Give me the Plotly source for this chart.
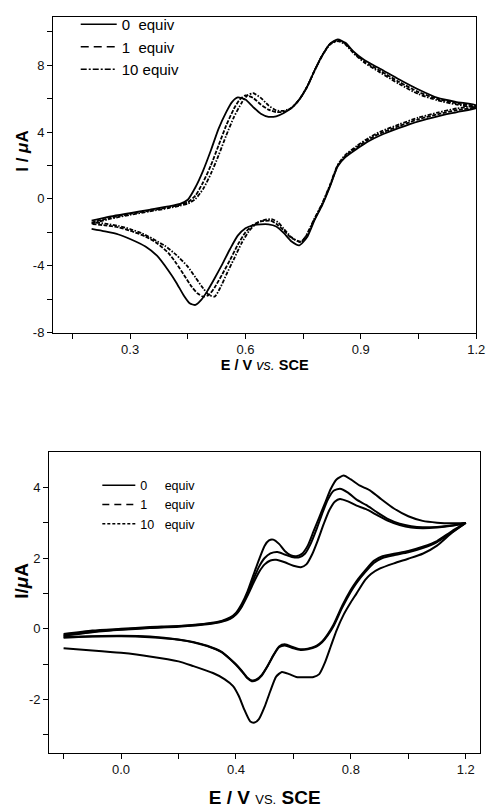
import plotly.graph_objects as go

# ---------------- data: top panel (E / V vs SCE, I / uA) ----------------
top_E_fwd = [0.20, 0.25, 0.30, 0.35, 0.40, 0.43, 0.45, 0.47, 0.49, 0.51,
             0.53, 0.55, 0.565, 0.58, 0.60, 0.62, 0.64, 0.66, 0.68, 0.70,
             0.72, 0.74, 0.76, 0.78, 0.80, 0.82, 0.84, 0.86, 0.88, 0.91,
             0.95, 1.00, 1.05, 1.10, 1.15, 1.20]
top_I_fwd_0eq = [-1.30, -1.05, -0.85, -0.65, -0.45, -0.30, -0.05, 0.70, 1.70, 2.90,
                 4.20, 5.20, 5.80, 6.08, 5.95, 5.50, 5.10, 4.92, 4.95, 5.15,
                 5.45, 5.95, 6.70, 7.70, 8.60, 9.30, 9.55, 9.35, 8.85, 8.30,
                 7.80, 7.15, 6.55, 6.05, 5.80, 5.60]
top_E_fwd_1eq = [0.20, 0.25, 0.30, 0.35, 0.40, 0.43, 0.45, 0.47, 0.49, 0.51,
                 0.53, 0.55, 0.57, 0.585, 0.60, 0.62, 0.64, 0.66, 0.68, 0.70,
                 0.72, 0.74, 0.76, 0.78, 0.80, 0.82, 0.84, 0.86, 0.88, 0.91,
                 0.95, 1.00, 1.05, 1.10, 1.15, 1.20]
top_I_fwd_1eq = [-1.42, -1.12, -0.90, -0.70, -0.50, -0.35, -0.20, 0.20, 1.00, 2.00,
                 3.20, 4.40, 5.40, 5.95, 6.20, 6.05, 5.65, 5.35, 5.20, 5.22,
                 5.45, 5.95, 6.70, 7.70, 8.60, 9.28, 9.50, 9.30, 8.80, 8.22,
                 7.68, 7.00, 6.40, 5.98, 5.72, 5.55]
top_E_fwd_10eq = [0.20, 0.25, 0.30, 0.35, 0.40, 0.43, 0.45, 0.47, 0.49, 0.51,
                  0.53, 0.55, 0.57, 0.59, 0.605, 0.62, 0.64, 0.66, 0.68, 0.70,
                  0.72, 0.74, 0.76, 0.78, 0.80, 0.82, 0.84, 0.86, 0.88, 0.91,
                  0.95, 1.00, 1.05, 1.10, 1.15, 1.20]
top_I_fwd_10eq = [-1.48, -1.18, -0.95, -0.75, -0.55, -0.40, -0.28, 0.00, 0.60, 1.50,
                  2.60, 3.80, 4.90, 5.75, 6.20, 6.33, 6.05, 5.60, 5.30, 5.28,
                  5.45, 5.95, 6.70, 7.70, 8.60, 9.25, 9.45, 9.25, 8.75, 8.15,
                  7.58, 6.88, 6.28, 5.90, 5.65, 5.50]

top_E_rev_0eq = [1.20, 1.15, 1.10, 1.05, 1.00, 0.95, 0.92, 0.89, 0.86, 0.84,
                 0.82, 0.80, 0.78, 0.76, 0.74, 0.72, 0.70, 0.68, 0.66, 0.64,
                 0.62, 0.60, 0.58, 0.56, 0.54, 0.52, 0.50, 0.485, 0.47, 0.455,
                 0.44, 0.42, 0.40, 0.37, 0.34, 0.30, 0.27, 0.235, 0.20]
top_I_rev_0eq = [5.45, 5.20, 4.95, 4.65, 4.25, 3.80, 3.45, 3.00, 2.50, 1.95,
                 0.75, -0.35, -1.25, -2.30, -2.78, -2.55, -2.05, -1.65, -1.52, -1.52,
                 -1.58, -1.75, -2.20, -3.00, -3.90, -4.75, -5.55, -6.05, -6.35, -6.25,
                 -5.80, -5.00, -4.30, -3.40, -2.85, -2.40, -2.13, -1.95, -1.80]
top_E_rev_1eq = [1.20, 1.15, 1.10, 1.05, 1.00, 0.95, 0.92, 0.89, 0.86, 0.84,
                 0.82, 0.80, 0.78, 0.76, 0.745, 0.72, 0.70, 0.68, 0.665, 0.64,
                 0.62, 0.60, 0.58, 0.56, 0.54, 0.52, 0.505, 0.49, 0.475, 0.46,
                 0.44, 0.42, 0.40, 0.37, 0.34, 0.30, 0.27, 0.235, 0.20]
top_I_rev_1eq = [5.50, 5.32, 5.07, 4.77, 4.37, 3.92, 3.56, 3.10, 2.58, 2.00,
                 0.80, -0.30, -1.20, -2.15, -2.55, -2.35, -1.90, -1.48, -1.30, -1.35,
                 -1.55, -2.00, -2.75, -3.65, -4.50, -5.30, -5.75, -5.85, -5.65, -5.25,
                 -4.55, -3.85, -3.25, -2.65, -2.25, -1.90, -1.70, -1.58, -1.50]
top_E_rev_10eq = [1.20, 1.15, 1.10, 1.05, 1.00, 0.95, 0.92, 0.89, 0.86, 0.84,
                  0.82, 0.80, 0.78, 0.76, 0.745, 0.72, 0.70, 0.685, 0.67, 0.65,
                  0.63, 0.61, 0.59, 0.57, 0.55, 0.535, 0.52, 0.505, 0.49, 0.47,
                  0.45, 0.42, 0.39, 0.36, 0.33, 0.30, 0.27, 0.235, 0.20]
top_I_rev_10eq = [5.55, 5.42, 5.17, 4.87, 4.47, 4.02, 3.65, 3.18, 2.64, 2.04,
                  0.85, -0.25, -1.15, -2.10, -2.60, -2.30, -1.80, -1.40, -1.22, -1.25,
                  -1.45, -1.90, -2.65, -3.60, -4.55, -5.30, -5.85, -5.75, -5.35, -4.70,
                  -4.05, -3.35, -2.80, -2.40, -2.05, -1.80, -1.62, -1.48, -1.38]

# ---------------- data: bottom panel ----------------
bot_E_fwd_0eq = [-0.20, -0.10, 0.00, 0.10, 0.20, 0.30, 0.35, 0.38, 0.40, 0.42,
                 0.44, 0.46, 0.48, 0.50, 0.515, 0.53, 0.55, 0.57, 0.59, 0.61,
                 0.63, 0.65, 0.67, 0.69, 0.71, 0.73, 0.75, 0.775, 0.80, 0.83,
                 0.865, 0.90, 0.95, 1.00, 1.05, 1.10, 1.15, 1.20]
bot_I_fwd_0eq = [-0.15, -0.05, 0.00, 0.05, 0.08, 0.15, 0.22, 0.32, 0.45, 0.70,
                 1.05, 1.50, 1.95, 2.35, 2.50, 2.52, 2.40, 2.20, 2.08, 2.05,
                 2.12, 2.35, 2.75, 3.15, 3.55, 3.95, 4.22, 4.33, 4.22, 4.05,
                 3.92, 3.70, 3.40, 3.18, 3.05, 3.00, 2.98, 2.99]
bot_E_fwd_1eq = [-0.20, -0.10, 0.00, 0.10, 0.20, 0.30, 0.35, 0.38, 0.40, 0.42,
                 0.44, 0.46, 0.48, 0.50, 0.52, 0.545, 0.57, 0.595, 0.62, 0.64,
                 0.66, 0.68, 0.70, 0.72, 0.74, 0.762, 0.79, 0.82, 0.853, 0.89,
                 0.93, 0.97, 1.01, 1.05, 1.10, 1.15, 1.20]
bot_I_fwd_1eq = [-0.18, -0.08, -0.02, 0.03, 0.07, 0.14, 0.21, 0.30, 0.42, 0.65,
                 0.98, 1.38, 1.75, 2.00, 2.13, 2.17, 2.10, 2.03, 2.02, 2.12,
                 2.40, 2.80, 3.25, 3.65, 3.90, 3.96, 3.85, 3.65, 3.50, 3.30,
                 3.10, 2.97, 2.90, 2.87, 2.88, 2.92, 2.99]
bot_E_fwd_10eq = [-0.20, -0.10, 0.00, 0.10, 0.20, 0.30, 0.35, 0.38, 0.40, 0.42,
                  0.44, 0.46, 0.48, 0.50, 0.52, 0.54, 0.57, 0.60, 0.626, 0.645,
                  0.665, 0.685, 0.705, 0.725, 0.745, 0.762, 0.79, 0.82, 0.853, 0.89,
                  0.93, 0.97, 1.01, 1.05, 1.10, 1.15, 1.20]
bot_I_fwd_10eq = [-0.20, -0.10, -0.03, 0.02, 0.06, 0.13, 0.20, 0.28, 0.40, 0.62,
                  0.93, 1.28, 1.60, 1.82, 1.93, 1.95, 1.88, 1.78, 1.74, 1.82,
                  2.10, 2.50, 2.95, 3.35, 3.60, 3.67, 3.60, 3.48, 3.38, 3.22,
                  3.05, 2.93, 2.86, 2.84, 2.86, 2.91, 2.99]

bot_E_rev_0eq = [1.20, 1.15, 1.10, 1.05, 1.00, 0.95, 0.90, 0.87, 0.85, 0.82,
                 0.80, 0.775, 0.75, 0.73, 0.71, 0.69, 0.67, 0.64, 0.61, 0.585,
                 0.56, 0.54, 0.52, 0.50, 0.48, 0.465, 0.45, 0.43, 0.41, 0.39,
                 0.36, 0.32, 0.25, 0.20, 0.10, 0.00, -0.10, -0.20]
bot_I_rev_0eq = [2.99, 2.70, 2.35, 2.12, 1.98, 1.85, 1.70, 1.55, 1.38, 1.00,
                 0.75, 0.40, -0.05, -0.50, -0.95, -1.28, -1.36, -1.37, -1.36, -1.28,
                 -1.22, -1.35, -1.75, -2.20, -2.55, -2.65, -2.62, -2.30, -1.90, -1.62,
                 -1.42, -1.25, -1.05, -0.92, -0.78, -0.68, -0.61, -0.55]
bot_E_rev_1eq = [1.20, 1.15, 1.10, 1.05, 1.00, 0.95, 0.91, 0.88, 0.85, 0.82,
                 0.80, 0.77, 0.74, 0.72, 0.70, 0.68, 0.65, 0.625, 0.60, 0.57,
                 0.55, 0.53, 0.51, 0.49, 0.47, 0.455, 0.44, 0.42, 0.40, 0.38,
                 0.35, 0.30, 0.25, 0.20, 0.10, 0.00, -0.10, -0.20]
bot_I_rev_1eq = [2.99, 2.75, 2.48, 2.32, 2.20, 2.12, 2.05, 1.92, 1.65, 1.35,
                 1.10, 0.65, 0.12, -0.15, -0.36, -0.48, -0.56, -0.58, -0.52, -0.44,
                 -0.50, -0.75, -1.05, -1.30, -1.44, -1.46, -1.38, -1.18, -1.00, -0.85,
                 -0.65, -0.48, -0.37, -0.30, -0.22, -0.20, -0.21, -0.23]
bot_E_rev_10eq = [1.20, 1.15, 1.10, 1.05, 1.00, 0.95, 0.91, 0.88, 0.85, 0.82,
                  0.80, 0.77, 0.74, 0.72, 0.70, 0.68, 0.65, 0.625, 0.60, 0.57,
                  0.55, 0.53, 0.51, 0.49, 0.47, 0.455, 0.44, 0.42, 0.40, 0.38,
                  0.35, 0.30, 0.25, 0.20, 0.10, 0.00, -0.10, -0.20]
bot_I_rev_10eq = [2.99, 2.72, 2.45, 2.28, 2.16, 2.08, 2.00, 1.86, 1.60, 1.30,
                  1.05, 0.60, 0.08, -0.18, -0.38, -0.50, -0.58, -0.60, -0.55, -0.47,
                  -0.52, -0.76, -1.06, -1.32, -1.46, -1.48, -1.40, -1.20, -1.02, -0.86,
                  -0.66, -0.49, -0.38, -0.31, -0.24, -0.21, -0.22, -0.25]

# ---------------- labels / ticks ----------------
top_legend_names = ["0\u00a0\u00a0equiv", "1\u00a0\u00a0equiv", "10\u00a0equiv"]
bot_legend_names = ["0\u00a0\u00a0\u00a0\u00a0\u00a0equiv", "1\u00a0\u00a0\u00a0\u00a0\u00a0equiv", "10\u00a0\u00a0\u00a0equiv"]
top_x_ticks = [0.3, 0.6, 0.9, 1.2]
top_x_labels = ["0.3", "0.6", "0.9", "1.2"]
top_x_minor = [0.15, 0.45, 0.75, 1.05]
top_y_ticks = [-8, -4, 0, 4, 8]
top_y_labels = ["-8", "-4", "0", "4", "8"]
top_y_minor = [-6, -2, 2, 6, 10]
bot_x_ticks = [0.0, 0.4, 0.8, 1.2]
bot_x_labels = ["0.0", "0.4", "0.8", "1.2"]
bot_x_minor = [-0.2, 0.2, 0.6, 1.0]
bot_y_ticks = [-2, 0, 2, 4]
bot_y_labels = ["-2", "0", "2", "4"]
bot_y_minor = [-3, -1, 1, 3]

FONT = "Arial, 'Liberation Sans', sans-serif"

# page body has an 8px margin; figure is sized/placed to compensate
OFF = 8
W, H = 495 - OFF, 808 - OFF
def fx(px):
    return (px - OFF) / W
def fy(py):
    return 1 - (py - OFF) / H

fig = go.Figure()

top_curves = [
    (top_E_fwd, top_I_fwd_0eq, top_E_rev_0eq, top_I_rev_0eq, "solid"),
    (top_E_fwd_1eq, top_I_fwd_1eq, top_E_rev_1eq, top_I_rev_1eq, "4px,1.5px"),
    (top_E_fwd_10eq, top_I_fwd_10eq, top_E_rev_10eq, top_I_rev_10eq, "4px,1.5px,1.5px,1.5px"),
]
for ef, i_f, er, i_r, dash in top_curves:
    fig.add_trace(go.Scatter(x=ef + er, y=i_f + i_r, mode="lines",
                             line=dict(color="black", width=1.8, dash=dash,
                                       shape="spline", smoothing=0.6),
                             xaxis="x", yaxis="y", showlegend=False, hoverinfo="skip"))

bot_curves = [
    (bot_E_fwd_0eq, bot_I_fwd_0eq, bot_E_rev_0eq, bot_I_rev_0eq),
    (bot_E_fwd_1eq, bot_I_fwd_1eq, bot_E_rev_1eq, bot_I_rev_1eq),
    (bot_E_fwd_10eq, bot_I_fwd_10eq, bot_E_rev_10eq, bot_I_rev_10eq),
]
for ef, i_f, er, i_r in bot_curves:
    fig.add_trace(go.Scatter(x=ef + er, y=i_f + i_r, mode="lines",
                             line=dict(color="black", width=2.0,
                                       shape="spline", smoothing=0.6),
                             xaxis="x2", yaxis="y2", showlegend=False, hoverinfo="skip"))

# legend entries
top_dashes = ["solid", "8px,5px", "6px,2px,2px,2px"]
for name, dash in zip(top_legend_names, top_dashes):
    fig.add_trace(go.Scatter(x=[None], y=[None], mode="lines", name=name,
                             line=dict(color="black", width=1.5, dash=dash),
                             xaxis="x", yaxis="y", legend="legend"))
bot_dashes = ["solid", "7px,5px", "3px,2px"]
for name, dash in zip(bot_legend_names, bot_dashes):
    fig.add_trace(go.Scatter(x=[None], y=[None], mode="lines", name=name,
                             line=dict(color="black", width=1.5, dash=dash),
                             xaxis="x2", yaxis="y2", legend="legend2"))

def ax_common():
    return dict(showline=True, linecolor="black", linewidth=1.3, mirror=True,
                ticks="outside", ticklen=5, tickwidth=1.2, tickcolor="black",
                showgrid=False, zeroline=False,
                tickfont=dict(family=FONT, size=13, color="#111"))

def minor(vals):
    return dict(tickvals=vals, ticks="outside", ticklen=5, tickwidth=1.2, tickcolor="black")

xa = ax_common()
xa.update(domain=[fx(54), fx(485)], anchor="y", range=[0.1, 1.2],
          tickmode="array", tickvals=top_x_ticks, ticktext=top_x_labels,
          minor=minor(top_x_minor),
          title=dict(text="<b>E / V </b><i>vs.</i><b> SCE</b>", standoff=0,
                     font=dict(family=FONT, size=14.5, color="black")))
ya = ax_common()
ya.update(domain=[fy(334), fy(14)], anchor="x", range=[-8, 10.9],
          tickmode="array", tickvals=top_y_ticks, ticktext=top_y_labels,
          minor=minor(top_y_minor))
xb = ax_common()
xb.update(domain=[fx(50), fx(489)], anchor="y2", range=[-0.25, 1.25],
          tickmode="array", tickvals=bot_x_ticks, ticktext=bot_x_labels,
          minor=minor(bot_x_minor),
          title=dict(text="<b>E / V </b><span style='font-size:13px'>VS.</span><b> SCE</b>", standoff=14,
                     font=dict(family=FONT, size=19, color="black")))
yb = ax_common()
yb.update(domain=[fy(760), fy(455)], anchor="x2", range=[-3.5, 5],
          tickmode="array", tickvals=bot_y_ticks, ticktext=bot_y_labels,
          minor=minor(bot_y_minor))

annotations = [
    dict(text="<b>I / <i>\u03bc</i>A</b>", x=fx(22), y=fy(150), xref="paper", yref="paper",
         textangle=-90, showarrow=False, xanchor="center", yanchor="middle",
         font=dict(family=FONT, size=17, color="black")),
    dict(text="<b>I/<i>\u03bc</i>A</b>", x=fx(21), y=fy(586), xref="paper", yref="paper",
         textangle=-90, showarrow=False, xanchor="center", yanchor="middle",
         font=dict(family=FONT, size=19, color="black")),
]

fig.update_layout(
    width=W, height=H, margin=dict(l=0, r=0, t=0, b=0),
    paper_bgcolor="white", plot_bgcolor="white",
    xaxis=xa, yaxis=ya, xaxis2=xb, yaxis2=yb,
    annotations=annotations,
    legend=dict(x=fx(77), y=fy(5), xanchor="left", yanchor="top",
                bgcolor="rgba(0,0,0,0)", font=dict(family=FONT, size=15, color="black"),
                tracegroupgap=0, itemwidth=36),
    legend2=dict(x=fx(99), y=fy(474), xanchor="left", yanchor="top",
                 bgcolor="rgba(0,0,0,0)", font=dict(family=FONT, size=12.5, color="black"),
                 tracegroupgap=0, itemwidth=33),
    showlegend=True,
)

fig.write_html("out.html")
